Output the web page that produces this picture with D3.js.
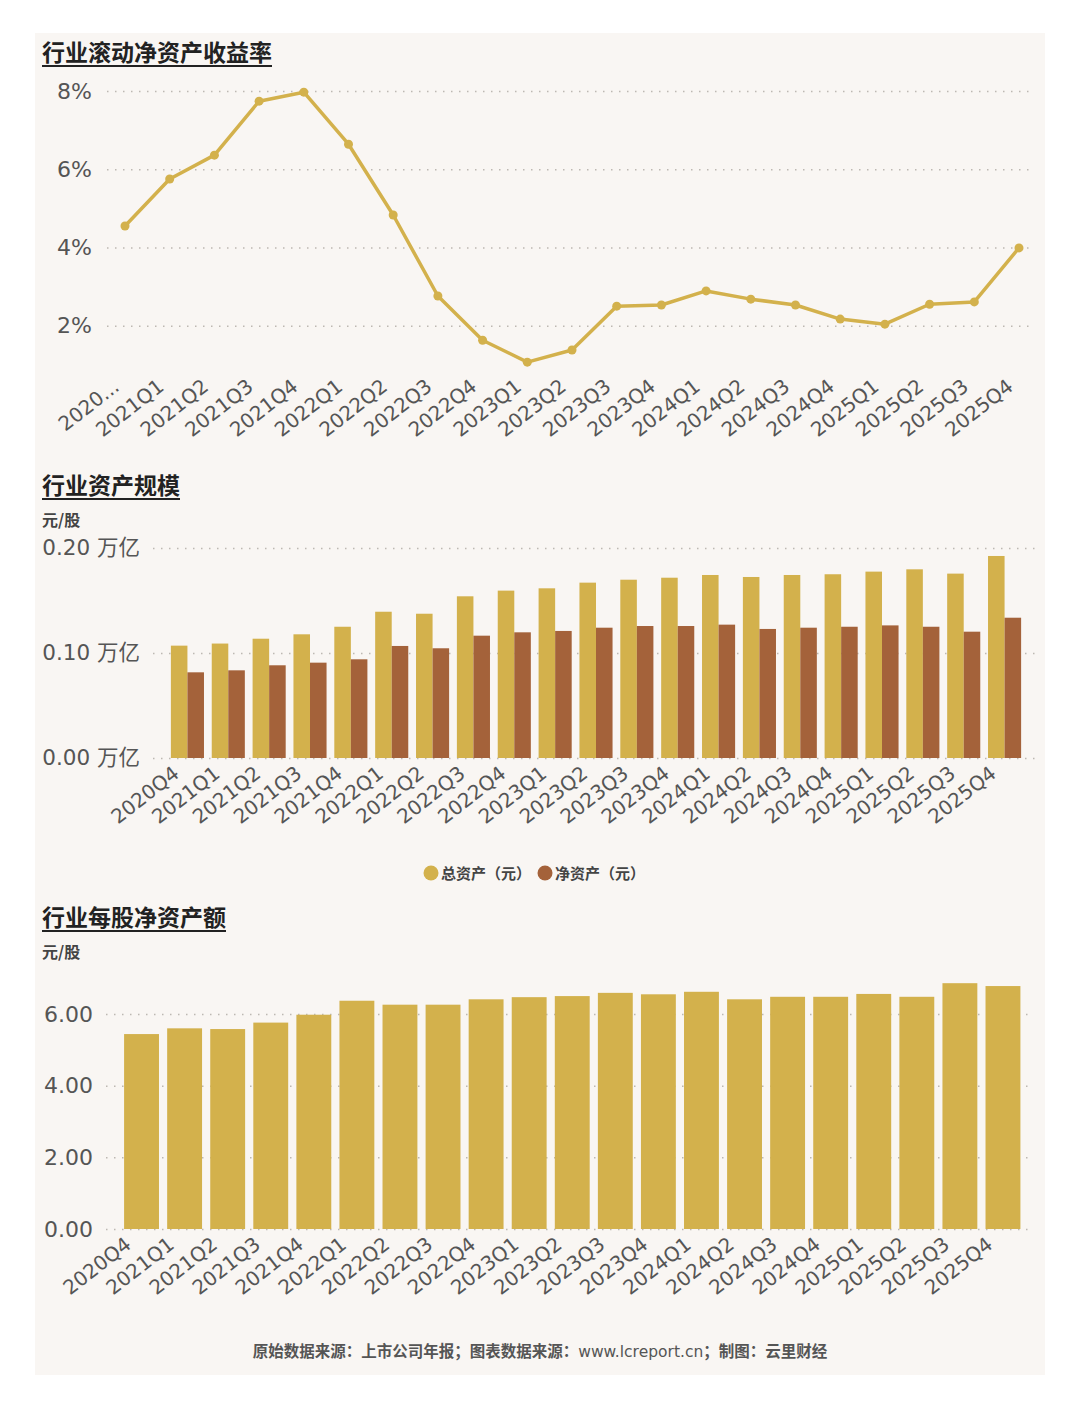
<!DOCTYPE html>
<html>
<head>
<meta charset="utf-8">
<script src="https://cdn.jsdelivr.net/npm/d3@7"></script>
<style>
  body { margin: 0; background: #fff; }
  svg { display: block; }
  .tick text { font-family: "DejaVu Sans", "Noto Sans CJK SC", sans-serif; fill: #555; }
  .cn { font-family: "Noto Sans CJK SC", "Noto Sans", sans-serif; }
</style>
</head>
<body>
<script>
// quarters shared by all three panels
var quarters = ["2020Q4","2021Q1","2021Q2","2021Q3","2021Q4","2022Q1","2022Q2","2022Q3","2022Q4",
  "2023Q1","2023Q2","2023Q3","2023Q4","2024Q1","2024Q2","2024Q3","2024Q4","2025Q1","2025Q2","2025Q3","2025Q4"];

// rolling ROE, percent
var roe = [4.55,5.75,6.36,7.74,7.97,6.64,4.83,2.76,1.63,1.07,1.38,2.50,2.53,2.89,2.68,2.53,2.17,2.04,2.55,2.61,3.99];

// total / net assets, 万亿
var totalAssets = [0.107,0.109,0.1136,0.1178,0.125,0.1393,0.1374,0.154,0.1594,0.1616,0.167,0.1698,0.1717,0.1743,0.1724,0.1743,0.175,0.1775,0.1797,0.1756,0.1924];
var netAssets = [0.0816,0.0835,0.0883,0.0908,0.094,0.1067,0.1045,0.1165,0.1197,0.121,0.1241,0.1257,0.1257,0.127,0.1229,0.1241,0.125,0.1263,0.125,0.1203,0.1336];

// net assets per share, 元
var bvps = [5.44,5.60,5.58,5.76,5.98,6.37,6.26,6.26,6.41,6.47,6.50,6.59,6.55,6.62,6.41,6.48,6.48,6.56,6.48,6.86,6.78];

var roeTicks = [2,4,6,8];
var assetTicks = [0,0.1,0.2];
var bvpsTicks = [0,2,4,6];
var seriesNames = ["总资产（元）","净资产（元）"];

var gold = "#d3b14c", brown = "#a4623a";

var svg = d3.select("body").append("svg")
    .attr("width", 1080)
    .attr("height", 1410);

// card
svg.append("rect")
    .attr("x", 35).attr("y", 33)
    .attr("width", 1010).attr("height", 1342)
    .attr("fill", "#f9f6f3");

function title(txt, y) {
    var t = svg.append("text")
        .attr("class", "cn")
        .attr("x", 42).attr("y", y)
        .attr("font-size", 23).attr("font-weight", 700)
        .attr("fill", "#222")
        .text(txt);
    var w = t.node().getComputedTextLength();
    svg.append("line")
        .attr("x1", 42).attr("x2", 42 + w)
        .attr("y1", y + 5).attr("y2", y + 5)
        .attr("stroke", "#222").attr("stroke-width", 2);
}
function unit(y) {
    svg.append("text")
        .attr("class", "cn")
        .attr("x", 42).attr("y", y)
        .attr("font-size", 16).attr("font-weight", 700)
        .attr("fill", "#444")
        .text("元/股");
}
function grid(g, x1, x2) {
    g.select(".domain").remove();
    g.selectAll(".tick line")
        .attr("x1", 0).attr("x2", x2 - x1)
        .attr("stroke", "#bdb8b2")
        .attr("stroke-width", 1.5)
        .attr("stroke-dasharray", "1.5,6.5");
}
function xLabels(g, dx, dy) {
    g.select(".domain").remove();
    g.selectAll(".tick line").remove();
    g.selectAll(".tick text")
        .attr("font-size", 20)
        .attr("text-anchor", "end")
        .attr("dy", null)
        .attr("x", 0).attr("y", 0)
        .attr("transform", "translate(" + dx + "," + dy + ") rotate(-38)");
}

// ---------- panel 1: ROE line ----------
title("行业滚动净资产收益率", 61);

var x1 = d3.scalePoint().domain(quarters).range([125, 1019]);
var y1 = d3.scaleLinear().domain([0, 8]).range([404, 91]);

svg.append("g")
    .attr("transform", "translate(107,0)")
    .call(d3.axisLeft(y1).tickValues(roeTicks).tickSize(0).tickFormat(function(d) { return d + "%"; }))
    .call(function(g) {
        grid(g, 107, 1032);
        g.selectAll(".tick text").attr("x", -15).attr("font-size", 22);
    });

svg.append("g")
    .attr("transform", "translate(0,372)")
    .call(d3.axisBottom(x1).tickSize(0).tickFormat(function(d, i) { return i === 0 ? "2020..." : d; }))
    .call(function(g) { xLabels(g, -5, 17); });

svg.append("path")
    .datum(roe)
    .attr("fill", "none")
    .attr("stroke", gold)
    .attr("stroke-width", 3.5)
    .attr("stroke-linejoin", "round")
    .attr("d", d3.line()
        .x(function(d, i) { return x1(quarters[i]); })
        .y(function(d) { return y1(d); }));

svg.selectAll(".roe-dot")
    .data(roe)
  .enter().append("circle")
    .attr("class", "roe-dot")
    .attr("cx", function(d, i) { return x1(quarters[i]); })
    .attr("cy", function(d) { return y1(d); })
    .attr("r", 4.5)
    .attr("fill", gold);

// ---------- panel 2: assets grouped bars ----------
title("行业资产规模", 494);
unit(526);

var x2 = d3.scaleBand().domain(quarters).range([167, 1025]).paddingInner(0.19).paddingOuter(0.095);
var x2s = d3.scaleBand().domain([0, 1]).range([0, x2.bandwidth()]);
var y2 = d3.scaleLinear().domain([0, 0.2]).range([758, 548]);

svg.append("g")
    .attr("transform", "translate(153,0)")
    .call(d3.axisLeft(y2).tickValues(assetTicks).tickSize(0).tickFormat(function(d) { return d3.format(".2f")(d) + " 万亿"; }))
    .call(function(g) {
        grid(g, 153, 1035);
        g.selectAll(".tick text").attr("x", -13).attr("font-size", 21.5);
    });

var groups = svg.selectAll(".asset-group")
    .data(quarters)
  .enter().append("g")
    .attr("class", "asset-group")
    .attr("transform", function(d) { return "translate(" + x2(d) + ",0)"; });

groups.append("rect")
    .attr("x", x2s(0)).attr("width", x2s.bandwidth())
    .attr("y", function(d, i) { return y2(totalAssets[i]); })
    .attr("height", function(d, i) { return y2(0) - y2(totalAssets[i]); })
    .attr("fill", gold);
groups.append("rect")
    .attr("x", x2s(1)).attr("width", x2s.bandwidth())
    .attr("y", function(d, i) { return y2(netAssets[i]); })
    .attr("height", function(d, i) { return y2(0) - y2(netAssets[i]); })
    .attr("fill", brown);

svg.append("g")
    .attr("transform", "translate(0,758)")
    .call(d3.axisBottom(x2).tickSize(0))
    .call(function(g) { xLabels(g, -7, 18); });

// legend
var legend = svg.append("g").attr("transform", "translate(431,873)");
var lx = 0;
seriesNames.forEach(function(name, i) {
    legend.append("circle").attr("cx", lx).attr("cy", 0).attr("r", 7.5).attr("fill", i ? brown : gold);
    var t = legend.append("text")
        .attr("class", "cn")
        .attr("x", lx + 10).attr("y", 5.5)
        .attr("font-size", 15).attr("font-weight", 700)
        .attr("fill", "#444")
        .text(name);
    lx += 10 + t.node().getComputedTextLength() + 14;
});

// ---------- panel 3: net assets per share ----------
title("行业每股净资产额", 926);
unit(958);

var x3 = d3.scaleBand().domain(quarters).range([120, 1024.5]).paddingInner(0.19).paddingOuter(0.095);
var y3 = d3.scaleLinear().domain([0, 6]).range([1229, 1014]);

svg.append("g")
    .attr("transform", "translate(106,0)")
    .call(d3.axisLeft(y3).tickValues(bvpsTicks).tickSize(0).tickFormat(d3.format(".2f")))
    .call(function(g) {
        grid(g, 106, 1032);
        g.selectAll(".tick text").attr("x", -13).attr("font-size", 22);
    });

svg.selectAll(".bvps-bar")
    .data(bvps)
  .enter().append("rect")
    .attr("class", "bvps-bar")
    .attr("x", function(d, i) { return x3(quarters[i]); })
    .attr("width", x3.bandwidth())
    .attr("y", function(d) { return y3(d); })
    .attr("height", function(d) { return y3(0) - y3(d); })
    .attr("fill", gold);

svg.append("g")
    .attr("transform", "translate(0,1229)")
    .call(d3.axisBottom(x3).tickSize(0))
    .call(function(g) { xLabels(g, -9, 18); });

// footer
var foot = svg.append("text")
    .attr("class", "cn")
    .attr("x", 540).attr("y", 1357)
    .attr("text-anchor", "middle")
    .attr("font-size", 15.5)
    .attr("fill", "#555");
foot.append("tspan").attr("font-weight", 700).text("原始数据来源：上市公司年报；图表数据来源：");
foot.append("tspan").attr("font-family", "\"DejaVu Sans\", sans-serif").text("www.lcreport.cn");
foot.append("tspan").attr("font-weight", 700).text("；制图：云里财经");
</script>
</body>
</html>
